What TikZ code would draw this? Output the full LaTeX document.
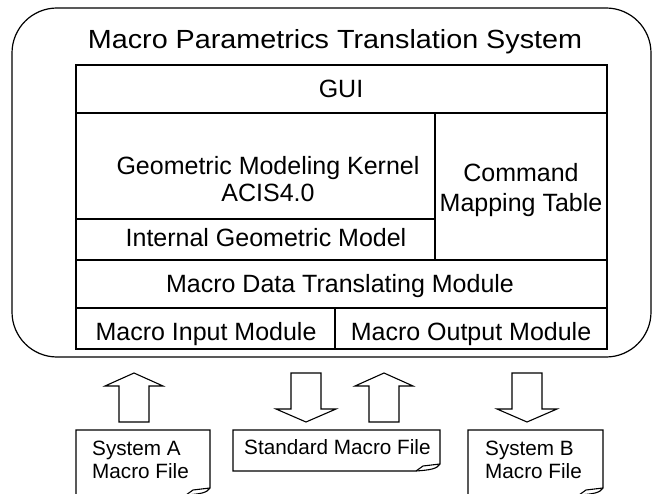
\documentclass[tikz,border=0pt]{standalone}
\usepackage{fontspec}
\setmainfont{Liberation Sans}
\usepackage{graphicx}
\tikzset{
  frame/.style={line width=1.2pt, draw=black},
  lbl/.style={font=\fontsize{25}{30}\selectfont, anchor=base, inner sep=0pt},
  flbl/.style={font=\fontsize{20.7}{24}\selectfont, anchor=base west, inner sep=0pt},
  blk/.style={line width=1.1pt, draw=black, line join=miter},
}
\begin{document}
\begin{tikzpicture}[x=1pt,y=-1pt]
\useasboundingbox (0,0) rectangle (653,494);
% outer system frame
\draw[frame, rounded corners=45pt] (12,8) rectangle (651,357);
\node[lbl] (title) at (335,49) {\scalebox{1.15}[1.05]{Macro Parametrics Translation System}};
% table
\draw[frame] (76,65) rectangle (607,349);
\draw[frame] (76,113) -- (607,113);
\draw[frame] (435,113) -- (435,260);
\draw[frame] (76,219) -- (435,219);
\draw[frame] (76,260) -- (607,260);
\draw[frame] (76,308) -- (607,308);
\draw[frame] (335,308) -- (335,349);
\node[lbl] (gui) at (341,98) {GUI};
\node[lbl] (gmk1) at (268,175) {Geometric Modeling Kernel};
\node[lbl] (gmk2) at (268,202) {ACIS4.0};
\node[lbl] (cmt1) at (521,182) {Command};
\node[lbl] (cmt2) at (521,212) {Mapping Table};
\node[lbl] (igm) at (266,247) {Internal Geometric Model};
\node[lbl] (mdtm) at (340,292) {Macro Data Translating Module};
\node[lbl] (mim) at (206,340) {Macro Input Module};
\node[lbl] (mom) at (471,340) {Macro Output Module};
% block arrows
\coordinate (a1) at (134,373);
\draw[blk] (a1) -- ++(29,13) -- ++(-14,0) -- ++(0,36) -- ++(-30,0) -- ++(0,-36) -- ++(-14,0) -- cycle;
\coordinate (a2) at (306,422);
\draw[blk] (a2) -- ++(30,-13) -- ++(-15,0) -- ++(0,-36) -- ++(-30,0) -- ++(0,36) -- ++(-15,0) -- cycle;
\coordinate (a3) at (384,373);
\draw[blk] (a3) -- ++(29,13) -- ++(-14,0) -- ++(0,36) -- ++(-30,0) -- ++(0,-36) -- ++(-14,0) -- cycle;
\coordinate (a4) at (527,422);
\draw[blk] (a4) -- ++(30,-13) -- ++(-15,0) -- ++(0,-36) -- ++(-30,0) -- ++(0,36) -- ++(-15,0) -- cycle;
% file boxes
\draw[blk] (210,488) -- (210,430) -- (76,430) -- (76,495) -- (186,495)
  .. controls (200,494) and (207,493) .. (210,488);
\draw[blk] (186,495) -- (193,490) -- (210,488);
\draw[blk] (440,464) -- (440,430) -- (233,430) -- (233,471) -- (416,471)
  .. controls (430,470) and (437,469) .. (440,464);
\draw[blk] (416,471) -- (423,466) -- (440,464);
\draw[blk] (603,488) -- (603,430) -- (468,430) -- (468,495) -- (579,495)
  .. controls (593,494) and (600,493) .. (603,488);
\draw[blk] (579,495) -- (586,490) -- (603,488);
\node[flbl] (sa1) at (92,455) {System A};
\node[flbl] (sa2) at (92,478) {Macro File};
\node[flbl] (smf) at (244,454) {Standard Macro File};
\node[flbl] (sb1) at (485,455) {System B};
\node[flbl] (sb2) at (485,478) {Macro File};
\end{tikzpicture}
\end{document}
